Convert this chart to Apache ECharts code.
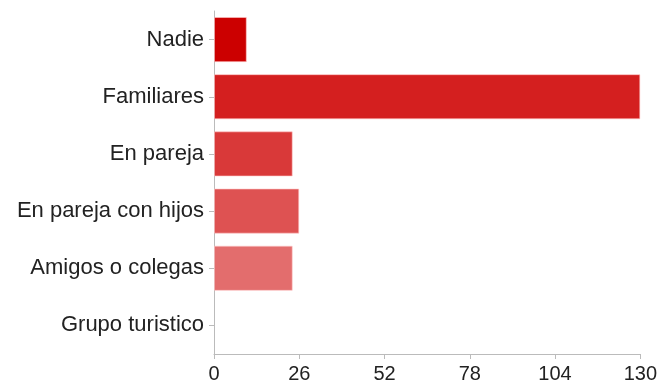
<!DOCTYPE html>
<html>
<head>
<meta charset="utf-8">
<script src="https://cdn.jsdelivr.net/npm/echarts@6/dist/echarts.min.js"></script>
<style>html,body{margin:0;padding:0;background:#fff}#c{width:660px;height:385px}</style>
</head>
<body>
<div id="c"></div>
<script>
var categories = ["Nadie", "Familiares", "En pareja", "En pareja con hijos", "Amigos o colegas", "Grupo turistico"];
var values = [10, 130, 24, 26, 24, 0];
var barColors = ["#cc0000", "#d41f1f", "#d93939", "#de5252", "#e36d6d", "#e88888"];
var xTicks = [0, 26, 52, 78, 104, 130];

var chart = echarts.init(document.getElementById('c'), null, {renderer: 'canvas'});
var font = 'Liberation Sans, Arial, Helvetica, sans-serif';
chart.setOption({
  animation: false,
  grid: {left: 214, right: 19, top: 11, bottom: 31, containLabel: false},
  xAxis: {
    type: 'value', min: xTicks[0], max: xTicks[xTicks.length - 1], interval: xTicks[1] - xTicks[0],
    splitLine: {show: false},
    axisLine: {show: true, lineStyle: {color: '#bbbbbb', width: 1}},
    axisTick: {show: true, length: 5, lineStyle: {color: '#bbbbbb'}},
    axisLabel: {color: '#222', fontSize: 20, fontFamily: font, margin: 10}
  },
  yAxis: {
    type: 'category', data: categories, inverse: true,
    axisLine: {show: true, lineStyle: {color: '#bbbbbb', width: 1}},
    axisTick: {show: true, length: 5, alignWithLabel: true, lineStyle: {color: '#bbbbbb'}},
    axisLabel: {color: '#222', fontSize: 22, fontFamily: font, margin: 10}
  },
  series: [{
    type: 'bar',
    data: values.map(function (v, i) {
      return {value: v, itemStyle: {color: barColors[i], borderWidth: v > 0 ? 1 : 0}};
    }),
    barCategoryGap: '21%',
    itemStyle: {borderColor: 'rgba(255,200,200,0.6)'}
  }]
});
</script>
</body>
</html>
